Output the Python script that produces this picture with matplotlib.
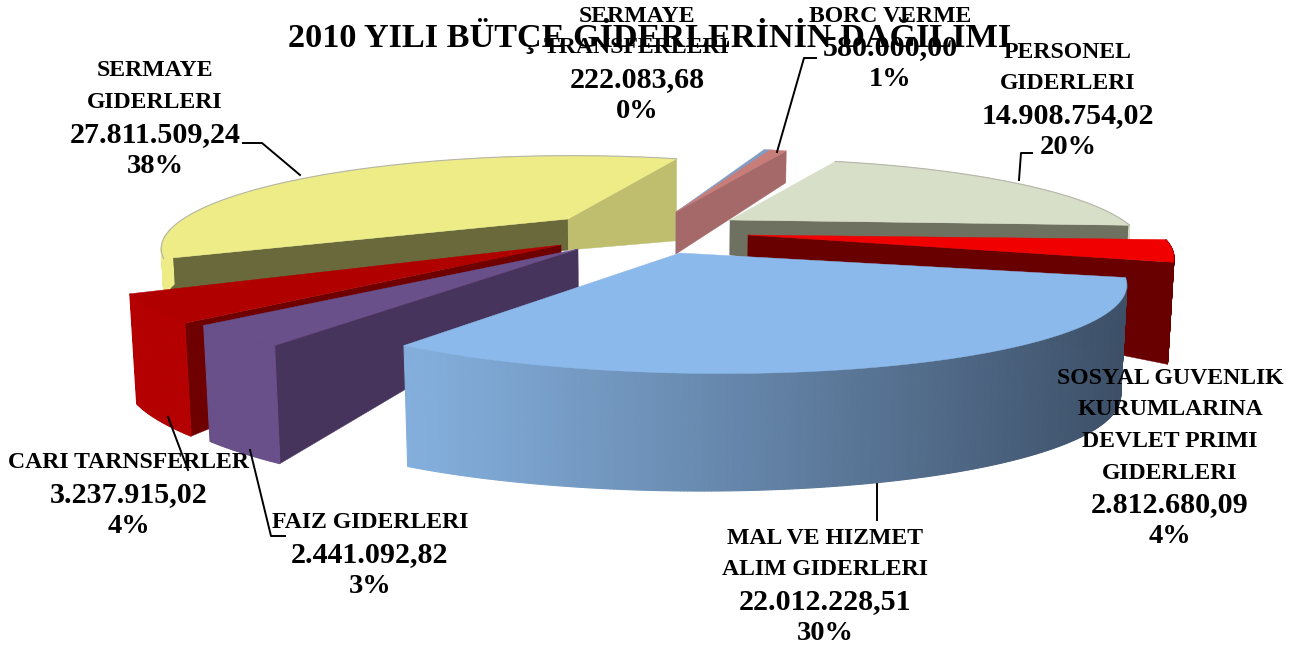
# coding:utf_8
import numpy as np
import matplotlib
matplotlib.use("Agg")
import matplotlib.pyplot as plt

names = ["PERSONEL\nGIDERLERI", "SOSYAL GUVENLIK\nKURUMLARINA\nDEVLET PRIMI\nGIDERLERI",
         "MAL VE HIZMET\nALIM GIDERLERI", "FAIZ GIDERLERI", "CARI TARNSFERLER",
         "SERMAYE\nGIDERLERI", "SERMAYE\nTRANSFERLERI", "BORC VERME"]
values = [14908754.02, 2812680.09, 22012228.51, 2441092.82, 3237915.02,
          27811509.24, 222083.68, 580000.00]

top_colors = ["#d8dfc8", "#f00000", "#8cb9eb", "#69508a", "#b00000", "#edec87", "#829bc3", "#c87d78"]
side_colors = ["#d8dfc8", "#690000", "#8cb9eb", "#69508a", "#b40000", "#edec87", "#829bc3", "#a56969"]
start_face = ["#6e7160", "#690000", "#8cb9eb", "#46345c", "#6e0000", "#69693c", "#829bc3", "#a56969"]
end_face = ["#6e7160", "#690000", "#8cb9eb", "#46345c", "#6e0000", "#bebe6e", "#829bc3", "#a56969"]

# layout of the exploded slices, in pixels
apex_x = [730, 748, 680, 578, 561, 568, 676, 676]
apex_y = [220, 235, 253, 249, 245, 219, 212, 212]
radius = [0.95, 1.0, 1.0, 1.05, 1.07, 1.0, 1.05, 1.05]
wide = [405.0, 405.0, 405.0, 405.0, 405.0, 385.0, 405.0, 405.0]
shear = [-30.0, 0.0, -50.0, -42.0, -50.0, 5.0, -35.0, -35.0]
tilt = [-5.0, -6.0, -9.0, -6.0, -6.0, 0.0, 0.0, 0.0]
depth_apex = [35, 45, 40, 38, 38, 31, 42, 42]
depth_rim0 = [80, 100, 110, 118, 113, 51, 32, 32]
depth_rim1 = [90, 102, 121, 116, 110, 82, 32, 32]
draw_order = [5, 6, 7, 0, 1, 4, 3, 2]

START = 24.5
B, P = 83.0, 0.31

label_x = [1068, 1170, 825, 370, 129, 155, 637, 890]
label_y = [52, 378, 538, 523, 463, 71, 16, 16]
LINE_STEP = 31.7

lead_x = [[1032, 1021, 1019], [], [877, 877], [250, 271, 285], [168, 188], [243, 262, 300], [], [816, 804, 777]]
lead_y = [[153, 153, 180], [], [484, 520], [450, 536, 536], [417, 470], [143, 143, 175], [], [58, 58, 152]]


def project(i, th, r):
    x = r * radius[i] * np.sin(np.radians(th))
    y = r * radius[i] * np.cos(np.radians(th))
    w = 1 + P * y
    return apex_x[i] + (wide[i] * x + shear[i] * y) / w, apex_y[i] - B * y / w + tilt[i] * x


def lower(x, d):
    # verticals lean a little towards the middle of the picture
    return x + (660 - x) * 0.013 * d / 110.0


def mix(c1, c2, t):
    return tuple(np.array(matplotlib.colors.to_rgb(c1)) * (1 - t) + np.array(matplotlib.colors.to_rgb(c2)) * t)


fig = plt.figure(figsize=(13.01, 6.5), dpi=100)
ax = fig.add_axes([0, 0, 1, 1])
ax.set_xlim(0, 1301)
ax.set_ylim(650, 0)
ax.axis("off")

sweep = np.array(values) / np.sum(values) * 360.0
starts = START + np.concatenate([[0], np.cumsum(sweep)[:-1]])

for i in draw_order:
    th0 = starts[i]
    th1 = th0 + sweep[i]
    ths = np.linspace(th0, th1, max(int(sweep[i]) * 3, 4))
    xs, ys = project(i, ths, 1.0)
    ds = np.linspace(depth_rim0[i], depth_rim1[i], len(ths))
    ax0, ay0 = apex_x[i], apex_y[i]
    da = depth_apex[i]

    # radial faces, only the ones turned to the viewer
    if np.sin(np.radians(th0)) < 0:
        ax.fill([ax0, xs[0], lower(xs[0], ds[0]), lower(ax0, da)],
                [ay0, ys[0], ys[0] + ds[0], ay0 + da], color=start_face[i], lw=0.3, zorder=2)
    if np.sin(np.radians(th1)) > 0:
        ax.fill([ax0, xs[-1], lower(xs[-1], ds[-1]), lower(ax0, da)],
                [ay0, ys[-1], ys[-1] + ds[-1], ay0 + da], color=end_face[i], lw=0.3, zorder=2)

    # rim
    for k in range(len(ths) - 1):
        if np.cos(np.radians(ths[k])) > -0.115:
            continue
        col = side_colors[i]
        if i == 2:
            col = mix("#84afdd", "#3d5068", np.clip((xs[k] - 402) / 720.0, 0, 1) ** 1.1)
        ax.fill([xs[k], xs[k + 1], lower(xs[k + 1], ds[k + 1]), lower(xs[k], ds[k])],
                [ys[k], ys[k + 1], ys[k + 1] + ds[k + 1], ys[k] + ds[k]],
                color=col, lw=0.8, zorder=2)

    # top
    ax.fill(np.r_[ax0, xs], np.r_[ay0, ys], color=top_colors[i], lw=0.3, zorder=2)
    if i in (0, 5):
        ax.plot(xs, ys, color="#b5b5a8", lw=0.8, zorder=2)

for i in draw_order:
    if lead_x[i]:
        ax.plot(lead_x[i], lead_y[i], color="black", lw=1.4, zorder=3)

total = np.sum(values)
for i in range(len(names)):
    amount = "{:,.2f}".format(values[i]).replace(",", "#").replace(".", ",").replace("#", ".")
    pct = "{:.0f}%".format(values[i] / total * 100)
    lines = names[i].split("\n")
    for n, line in enumerate(lines + [amount, pct]):
        size = 17.1
        if n == len(lines):
            size = 21.6
        elif n > len(lines):
            size = 20.5
        ax.text(label_x[i], label_y[i] + n * LINE_STEP, line, ha="center", va="center",
                family="Liberation Serif", weight="bold", fontsize=size, color="black", zorder=4)

ax.text(650, 36, "2010 YILI BÜTÇE GİDERLERİNİN DAĞILIMI", ha="center", va="center",
        family="Liberation Serif", weight="bold", fontsize=24.7, color="black", zorder=4)

plt.savefig("out.png", dpi=100)
